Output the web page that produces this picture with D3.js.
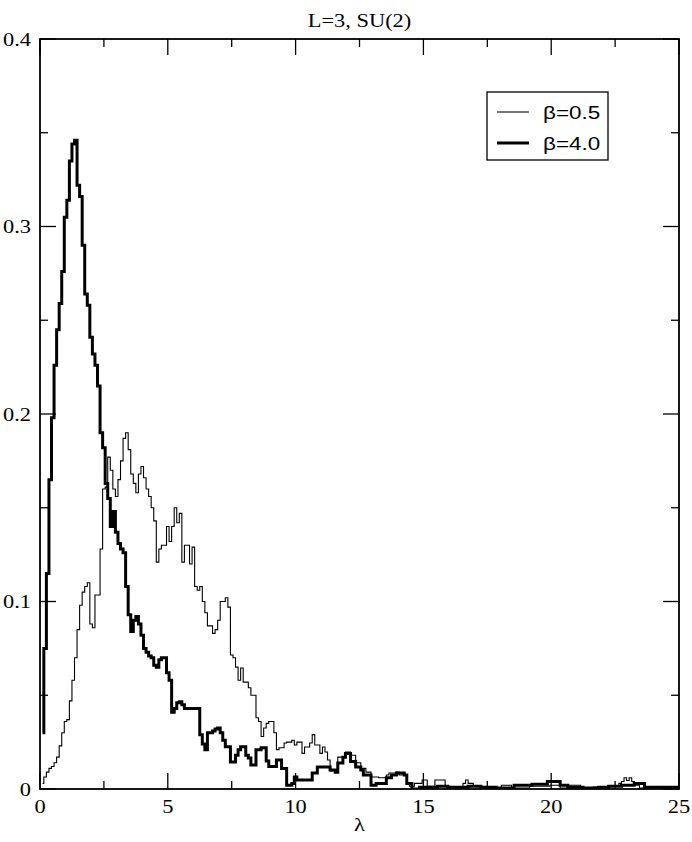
<!DOCTYPE html>
<html><head><meta charset="utf-8">
<script src="https://cdn.jsdelivr.net/npm/d3@7"></script>
<style>body{margin:0;background:#fff}svg{display:block}</style>
</head><body>
<svg id="chart" width="692" height="842"></svg>
<script>
// ---- data ----
const title = "L=3, SU(2)";
const xLabel = "λ";
const xDomain = [0, 25];
const yDomain = [0, 0.4];
const xTicks = [0, 5, 10, 15, 20, 25];
const xTickLabels = ["0", "5", "10", "15", "20", "25"];
const xMinorTicks = [2.5, 7.5, 12.5, 17.5, 22.5];
const yTicks = [0, 0.1, 0.2, 0.3, 0.4];
const yTickLabels = ["0", "0.1", "0.2", "0.3", "0.4"];
const yMinorTicks = [0.05, 0.15, 0.25, 0.35];
const binStart = 0.1, binWidth = 0.1;
const seriesNames = ["β=0.5", "β=4.0"];

// beta = 0.5 (thin)
const beta05 = [
0.003,0.0064,0.009,0.011,0.012,0.014,0.017,0.023,0.030,0.036,
0.037,0.047,0.058,0.070,0.085,0.098,0.105,0.108,0.110,0.088,
0.086,0.1035,0.1035,0.128,0.160,0.161,0.177,0.170,0.160,0.156,
0.165,0.175,0.187,0.190,0.181,0.168,0.163,0.158,0.168,0.172,
0.166,0.160,0.156,0.150,0.143,0.121,0.128,0.130,0.130,0.140,
0.132,0.140,0.150,0.142,0.147,0.121,0.130,0.130,0.120,0.129,
0.108,0.106,0.108,0.100,0.094,0.087,0.087,0.083,0.085,0.090,
0.100,0.100,0.102,0.097,0.0715,0.070,0.065,0.058,0.0645,0.057,
0.057,0.054,0.050,0.050,0.038,0.036,0.028,0.0325,0.035,0.036,
0.036,0.030,0.021,0.022,0.022,0.0245,0.025,0.025,0.026,0.0235,
0.025,0.025,0.019,0.0224,0.0224,0.0245,0.029,0.0235,0.0235,0.019,
0.0224,0.0197,0.0155,0.0096,0.010,0.010,0.017,0.017,0.017,0.0197,
0.0197,0.018,0.018,0.014,0.014,0.011,0.011,0.009,0.009,0.0064,
0.0064,0.0064,0.006,0.006,0.006,0.0075,0.0085,0.0085,0.0085,0.009,
0.0075,0.0075,0.0075,0.003,0.0015,0.0015,0.003,0.003,0.003,0.0048,
0.0048,0.0015,0.0015,0.0015,0.0048,0.0048,0.0048,0.0048,0.0015,0.0015,
0.001,0.001,0.001,0.001,0.001,0.003,0.0048,0.003,0.003,0.0015,
0.0015,0.0015,0.001,0.001,0.001,0.001,0.001,0.0005,0.0005,0.0005,
0.002,0.002,0.002,0.002,0.0005,0.0005,0.0005,0.0005,0.0005,0.0005,
0.0005,0.0015,0.0015,0.0015,0.0015,0.0015,0.0015,0.0015,0.0015,0.002,
0.002,0.002,0.002,0.0005,0.0005,0.0005,0.002,0.002,0.002,0.002,
0.002,0.0005,0.0005,0.0005,0.0005,0.0005,0.001,0.001,0.001,0.001,
0.001,0.001,0.0015,0.0015,0.0015,0.0015,0.003,0.004,0.006,0.0045,
0.006,0.004,0.002,0.002,0.0005,0.0005,0.0005,0.0005,0.0005,0.001,
0.001,0.001,0.001,0.001,0.001,0.001,0.001,0.001,0.001,0.001
];

// beta = 4.0 (thick)
const beta40 = [
0.030,0.075,0.115,0.165,0.198,0.226,0.245,0.259,0.276,0.305,
0.314,0.335,0.344,0.346,0.322,0.316,0.290,0.264,0.258,0.241,
0.232,0.226,0.215,0.190,0.182,0.163,0.155,0.140,0.148,0.137,
0.131,0.128,0.126,0.108,0.093,0.084,0.090,0.092,0.088,0.082,
0.075,0.073,0.071,0.070,0.066,0.065,0.069,0.070,0.070,0.062,
0.058,0.041,0.043,0.046,0.0465,0.045,0.043,0.043,0.043,0.043,
0.043,0.043,0.029,0.024,0.021,0.030,0.030,0.031,0.032,0.0325,
0.030,0.026,0.0225,0.0225,0.0144,0.0144,0.018,0.021,0.0225,0.0225,
0.018,0.0165,0.0128,0.0128,0.021,0.021,0.022,0.022,0.015,0.012,
0.012,0.012,0.0155,0.0155,0.011,0.011,0.002,0.002,0.003,0.0064,
0.0048,0.0048,0.0048,0.0048,0.0048,0.0048,0.0085,0.0085,0.0117,0.0117,
0.0117,0.0117,0.0117,0.0101,0.0101,0.009,0.0139,0.0139,0.017,0.019,
0.019,0.0147,0.0147,0.0117,0.0117,0.0101,0.0075,0.0075,0.0075,0.002,
0.002,0.003,0.003,0.003,0.003,0.006,0.006,0.0075,0.0075,0.0085,
0.0085,0.0085,0.0075,0.003,0.003,0,0,0,0.001,0.001,
0.001,0.001,0.001,0.001,0.001,0.0015,0.0015,0.0015,0.0015,0.001,
0.001,0.001,0.001,0.001,0.001,0.001,0.001,0.0015,0.0015,0.0015,
0.0015,0.0015,0.001,0.001,0.001,0.001,0.001,0.001,0.0005,0.0005,
0.0005,0.0005,0.0005,0.0005,0.0005,0.002,0.002,0.002,0.002,0.002,
0.002,0.002,0.0025,0.0025,0.0025,0.0025,0.0025,0.0025,0.004,0.004,
0.004,0.004,0.004,0.002,0.002,0.002,0.001,0.001,0.001,0.001,
0.001,0.001,0.0005,0.0005,0.0005,0.0005,0.0005,0.0005,0.001,0.001,
0.001,0.001,0.0015,0.0015,0.0015,0.0015,0.0015,0.002,0.002,0.002,
0.002,0.002,0.003,0.003,0.003,0.003,0.001,0.001,0.001,0.001,
0.001,0.001,0.001,0.001,0.001,0.001,0.001,0.001,0.001,0.001
];

// ---- drawing ----
const svg = d3.select("#chart");
const L = 40, R = 679, T = 39, B = 789;
const x = d3.scaleLinear().domain(xDomain).range([L, R]);
const y = d3.scaleLinear().domain(yDomain).range([B, T]);
const SX = 1.18;
const serif = "'Liberation Serif','Times New Roman',serif";
const sans = "'Liberation Sans',Arial,sans-serif";

function stretchedText(px, py, txt, anchor, font, size) {
  return svg.append("text")
    .attr("transform", `translate(${px},${py}) scale(${SX},1)`)
    .attr("text-anchor", anchor)
    .attr("font-family", font)
    .attr("font-size", size)
    .attr("fill", "#000")
    .text(txt);
}

svg.append("defs").append("clipPath").attr("id", "clip")
  .append("rect").attr("x", L).attr("y", T).attr("width", R - L).attr("height", B - T);

const toPts = vals => vals.map((v, i) => [binStart + i * binWidth, v]);
const line = d3.line().x(d => x(d[0])).y(d => y(d[1])).curve(d3.curveStep);

const gData = svg.append("g").attr("clip-path", "url(#clip)");
gData.append("path").attr("d", line(toPts(beta05)))
  .attr("fill", "none").attr("stroke", "#000").attr("stroke-width", 1.1);
gData.append("path").attr("d", line(toPts(beta40)))
  .attr("fill", "none").attr("stroke", "#000").attr("stroke-width", 3)
  .attr("stroke-linejoin", "miter");

// ticks
const gT = svg.append("g").attr("stroke", "#000").attr("stroke-width", 1.3);
const MAJ = 16, MIN = 8;
xTicks.forEach(t => {
  gT.append("line").attr("x1", x(t)).attr("x2", x(t)).attr("y1", B).attr("y2", B - MAJ);
  gT.append("line").attr("x1", x(t)).attr("x2", x(t)).attr("y1", T).attr("y2", T + MAJ);
});
xMinorTicks.forEach(t => {
  gT.append("line").attr("x1", x(t)).attr("x2", x(t)).attr("y1", B).attr("y2", B - MIN);
  gT.append("line").attr("x1", x(t)).attr("x2", x(t)).attr("y1", T).attr("y2", T + MIN);
});
yTicks.forEach(t => {
  gT.append("line").attr("x1", L).attr("x2", L + MAJ).attr("y1", y(t)).attr("y2", y(t));
  gT.append("line").attr("x1", R).attr("x2", R - MAJ).attr("y1", y(t)).attr("y2", y(t));
});
yMinorTicks.forEach(t => {
  gT.append("line").attr("x1", L).attr("x2", L + MIN).attr("y1", y(t)).attr("y2", y(t));
  gT.append("line").attr("x1", R).attr("x2", R - MIN).attr("y1", y(t)).attr("y2", y(t));
});

// frame
svg.append("rect").attr("x", L).attr("y", T).attr("width", R - L).attr("height", B - T)
  .attr("fill", "none").attr("stroke", "#000").attr("stroke-width", 1.8);

// tick labels
xTicks.forEach((t, i) => stretchedText(x(t), 813, xTickLabels[i], "middle", serif, 19));
yTicks.forEach((t, i) => stretchedText(31, y(t) + 6.5, yTickLabels[i], "end", serif, 19));

// title and axis label
stretchedText((L + R) / 2, 27, title, "middle", serif, 19);
stretchedText((L + R) / 2, 831, xLabel, "middle", serif, 19);

// legend
const lg = svg.append("g");
lg.append("rect").attr("x", 487).attr("y", 92).attr("width", 121).attr("height", 68)
  .attr("fill", "#fff").attr("stroke", "#000").attr("stroke-width", 1.3);
const legendY = [112, 143];
const legendW = [1.1, 3];
seriesNames.forEach((nm, i) => {
  lg.append("line").attr("x1", 497).attr("x2", 529).attr("y1", legendY[i]).attr("y2", legendY[i])
    .attr("stroke", "#000").attr("stroke-width", legendW[i]);
  stretchedText(543, legendY[i] + 7, nm, "start", sans, 19);
});
</script>
</body></html>
